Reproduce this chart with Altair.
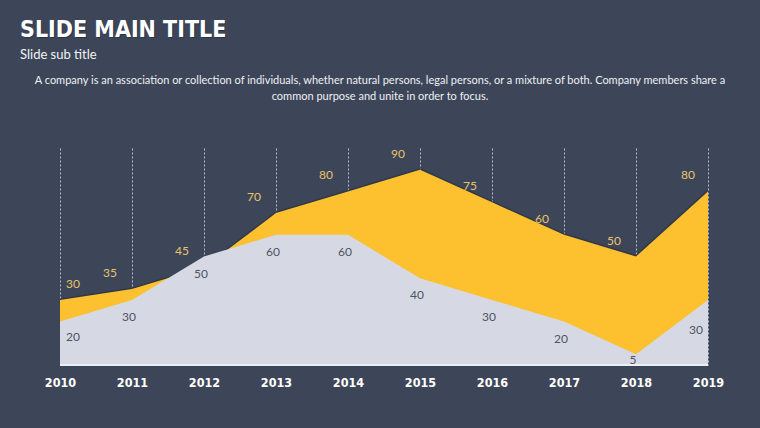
import altair as alt
import pandas as pd

years = ["2010", "2011", "2012", "2013", "2014", "2015", "2016", "2017", "2018", "2019"]
yellow_values = [30, 35, 45, 70, 80, 90, 75, 60, 50, 80]
gray_values = [20, 30, 50, 60, 60, 40, 30, 20, 5, 30]

title_text = "SLIDE MAIN TITLE"
subtitle_text = "Slide sub title"
paragraph_text = ("A company is an association or collection of individuals, whether natural persons, legal persons, "
                  "or a mixture of both. Company members share a\ncommon purpose and unite in order to focus.")

BG = "#3d4659"
YELLOW = "#fdc02f"
GRAY = "#d6d9e3"
COND = "'DejaVu Sans Condensed', 'Liberation Sans Narrow', 'Roboto Condensed', Roboto, sans-serif"

df = pd.DataFrame({"year": years, "yellow": yellow_values, "gray": gray_values})

W, H = 648, 217
xenc = alt.X("year:O", scale=alt.Scale(type="point", padding=0),
             axis=alt.Axis(title=None, labelAngle=0, domain=False, ticks=False,
                           labelPadding=11, labelFont=COND,
                           labelFontWeight="bold", labelFontSize=12.5, labelColor="#ffffff",
                           grid=True, gridColor="#c3c9d6", gridDash=[2, 2], gridWidth=1,
                           gridOpacity=0.9))
yscale = alt.Scale(domain=[0, 100], nice=False, zero=True)

base = alt.Chart(df).transform_calculate(gray_lab="max(datum.gray, 10)")

shadow = base.mark_line(color="#2c3343", strokeWidth=3, opacity=0.7).encode(
    x=xenc, y=alt.Y("yellow:Q", scale=yscale, axis=None))
yellow_area = base.mark_area(color=YELLOW, opacity=1).encode(
    x=xenc, y=alt.Y("yellow:Q", scale=yscale, axis=None))
gray_area = base.mark_area(color=GRAY, opacity=1).encode(
    x=xenc, y=alt.Y("gray:Q", scale=yscale, axis=None))
baseline = base.mark_rule(color="#eceef3", strokeWidth=2).encode(
    x=alt.value(0), x2=alt.value(W), y=alt.value(H))

first = f"datum.year == '{years[0]}'"
last = f"datum.year == '{years[-1]}'"
mid = f"!({first}) && !({last})"


def ylabels(flt, dx):
    return base.transform_filter(flt).mark_text(
        font="Lato", fontSize=12, color="#e6c36b", dx=dx, dy=-16).encode(
        x=xenc, y=alt.Y("yellow:Q", scale=yscale, axis=None), text="yellow:Q")


def glabels(flt, dx, dy=17):
    return base.transform_filter(flt).mark_text(
        font="Lato", fontSize=12, color="#4d5466", dx=dx, dy=dy).encode(
        x=xenc, y=alt.Y("gray_lab:Q", scale=yscale, axis=None), text="gray:Q")


labels = [ylabels(mid, -22), ylabels(first, 13), ylabels(last, -20),
          glabels(mid, -3), glabels(first, 13, 15), glabels(last, -12, 30)]

tdf = pd.DataFrame({"t": [title_text]})
sdf = pd.DataFrame({"t": [subtitle_text]})
pdf = pd.DataFrame({"t": [paragraph_text]})

title_shadow = alt.Chart(tdf).mark_text(font=COND, fontWeight="bold", fontSize=23,
                                        color="#22283a", opacity=0.6, align="left",
                                        baseline="alphabetic", dx=1, dy=1).encode(
    text="t:N", x=alt.value(-40), y=alt.value(-111))
title = alt.Chart(tdf).mark_text(font=COND, fontWeight="bold", fontSize=23,
                                 color="#ffffff", align="left", baseline="alphabetic").encode(
    text="t:N", x=alt.value(-40), y=alt.value(-111))
subtitle = alt.Chart(sdf).mark_text(font="Lato", fontSize=13, color="#f2f3f6",
                                    align="left", baseline="alphabetic").encode(
    text="t:N", x=alt.value(-40), y=alt.value(-89))
paragraph = alt.Chart(pdf).mark_text(font="Lato", fontSize=11, color="#eef0f4", align="center",
                                     baseline="alphabetic", lineBreak="\n", lineHeight=16).encode(
    text="t:N", x=alt.value(320), y=alt.value(-64))

chart = alt.layer(shadow, yellow_area, gray_area, baseline, *labels,
                  title_shadow, title, subtitle, paragraph).properties(
    width=W, height=H, background=BG,
    autosize=alt.AutoSizeParams(type="none"),
    padding={"left": 60, "top": 148, "right": 52, "bottom": 63},
).configure_view(stroke=None)

chart.save("out.html", embed_options={"renderer": "svg", "actions": False})
